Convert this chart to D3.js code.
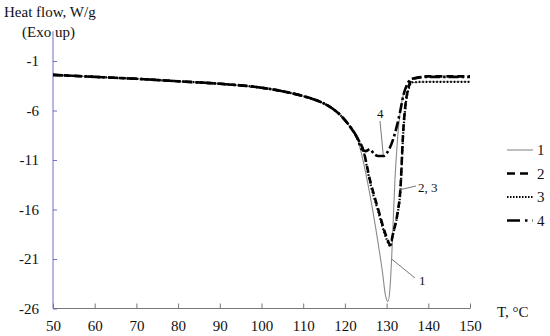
<!DOCTYPE html>
<html>
<head>
<meta charset="utf-8">
<script src="https://cdn.jsdelivr.net/npm/d3@7"></script>
<style>
  body { margin: 0; background: #fff; }
  svg text { font-family: "Liberation Serif", "Times New Roman", Times, "DejaVu Serif", serif; fill: #111; }
</style>
</head>
<body>
<svg id="chart" width="550" height="336"></svg>
<script>
const FONT = '"Liberation Serif", "Times New Roman", Times, "DejaVu Serif", serif';

// baseline part shared by all curves (T, heat flow)
const baseT = [50, 60, 70, 80, 90, 100, 105, 110, 114, 117, 119, 121, 123];
const baseV = [-2.4, -2.6, -2.8, -3.05, -3.3, -3.7, -4.05, -4.55, -5.1, -5.8, -6.5, -7.5, -8.8];

// peak region of each curve
const peak1T = [124, 126, 128, 129, 129.7, 130.3, 130.8, 131.2, 131.6, 132, 132.6, 133.3, 134, 135, 136, 140, 150];
const peak1V = [-10.4, -14.5, -19.5, -22.3, -24.6, -25.3, -24, -21, -17, -13, -9, -6, -4.4, -3.5, -3.2, -3.1, -3.1];

const peak2T = [124.4, 126, 128, 130, 130.9, 131.5, 132.6, 133.3, 134, 134.5, 135.3, 136.2, 140, 150];
const peak2V = [-10, -13, -16, -18.8, -19.6, -18.5, -16.4, -14, -8, -5.5, -3.6, -2.8, -2.55, -2.55];

const peak3T = [124.4, 126, 128, 130, 130.9, 131.5, 132.6, 133.3, 134, 134.5, 135.3, 136.2, 140, 150];
const peak3V = [-10, -13.2, -16.2, -19, -19.7, -18.6, -16.5, -14.2, -8.2, -5.7, -3.8, -3.15, -3.1, -3.1];

const peak4T = [124, 125, 126, 127, 128, 129.2, 130.5, 131.5, 132.5, 133.3, 134, 135, 136, 140, 150];
const peak4V = [-9.9, -10.1, -9.9, -10.4, -10.6, -10.6, -10, -9, -7.5, -6, -4.5, -3.3, -2.8, -2.6, -2.6];

const seriesNames = ['1', '2', '3', '4'];
const xTicks = [50, 60, 70, 80, 90, 100, 110, 120, 130, 140, 150];
const yTicks = [-26, -21, -16, -11, -6, -1];

const svg = d3.select('#chart');

const x = d3.scaleLinear().domain([50, 150]).range([53, 470]);
const y = d3.scaleLinear().domain([-26, 2]).range([308.5, 31.3]);

function build(pT, pV) {
  const pts = baseT.map((t, i) => ({ t: t, v: baseV[i] }));
  pT.forEach((t, i) => pts.push({ t: t, v: pV[i] }));
  return pts;
}

const series = [
  { name: '1', data: build(peak1T, peak1V), color: '#8a8a8a', width: 1.1, dash: null },
  { name: '2', data: build(peak2T, peak2V), color: '#000', width: 2.6, dash: '7,4' },
  { name: '3', data: build(peak3T, peak3V), color: '#000', width: 2.2, dash: '1.5,2' },
  { name: '4', data: build(peak4T, peak4V), color: '#000', width: 2.6, dash: '10,3,2.5,3' }
];

// axes (plain hyphen for negatives, as in the original)
const xAxis = d3.axisBottom(x).tickValues(xTicks).tickSize(-5).tickPadding(12).tickFormat(d => String(d));
const yAxis = d3.axisLeft(y).tickValues(yTicks).tickSize(-4).tickPadding(14).tickFormat(d => String(d));

const xg = svg.append('g').attr('transform', 'translate(0,308.5)').call(xAxis);
xg.attr('font-family', FONT);
xg.select('.domain').attr('stroke', '#777').attr('d', `M${x(50)},0H${x(150)}`);
xg.selectAll('.tick line').attr('stroke', '#777');
xg.selectAll('.tick text').style('font-size', '15px').attr('fill', '#111');

const yg = svg.append('g').attr('transform', `translate(${x(50)},0)`).call(yAxis);
yg.attr('font-family', FONT);
yg.select('.domain').attr('stroke', '#6f6fc4').attr('d', `M0,${y(2)}V${y(-26)}`);
yg.selectAll('.tick line').attr('stroke', '#6f6fc4');
yg.selectAll('.tick text').style('font-size', '15px').attr('fill', '#111');

// axis titles
svg.append('text').attr('x', 4).attr('y', 17).style('font-size', '15px').text('Heat flow, W/g');
svg.append('text').attr('x', 22).attr('y', 37).style('font-size', '15px').text('(Exo up)');
svg.append('text').attr('x', 497).attr('y', 317).style('font-size', '15px').text('T, \u00B0C');

// curves
const line = d3.line().x(d => x(d.t)).y(d => y(d.v)).curve(d3.curveMonotoneX);

svg.append('g').selectAll('path')
  .data(series)
  .join('path')
  .attr('d', d => line(d.data))
  .attr('fill', 'none')
  .attr('stroke', d => d.color)
  .attr('stroke-width', d => d.width)
  .attr('stroke-dasharray', d => d.dash);

// annotations with leader lines
const notes = [
  { label: '4', tx: 377, ty: 118, x1: 380, y1: 121, t: 129.2, v: -10.5 },
  { label: '2, 3', tx: 418, ty: 192, x1: 416, y1: 186, t: 133.2, v: -14 },
  { label: '1', tx: 419, ty: 285, x1: 415, y1: 278, t: 131.2, v: -21 }
];
notes.forEach(n => {
  svg.append('line')
    .attr('x1', n.x1).attr('y1', n.y1)
    .attr('x2', x(n.t)).attr('y2', y(n.v))
    .attr('stroke', '#555').attr('stroke-width', 0.8);
  svg.append('text')
    .attr('x', n.tx).attr('y', n.ty)
    .style('font-size', '13px')
    .text(n.label);
});

// legend
const legend = svg.append('g').attr('transform', 'translate(507,150)');
series.forEach((s, i) => {
  const g = legend.append('g').attr('transform', `translate(0,${i * 23.5})`);
  g.append('line')
    .attr('x1', 0).attr('x2', 26)
    .attr('y1', 0).attr('y2', 0)
    .attr('stroke', s.color)
    .attr('stroke-width', s.name === '1' ? 1.1 : (s.name === '3' ? 1.8 : 2.6))
    .attr('stroke-dasharray', s.name === '2' ? '8,5' : (s.name === '3' ? '1.5,1.5' : (s.name === '4' ? '13,5,2.5,5' : null)));
  g.append('text')
    .attr('x', 30).attr('y', 5)
    .style('font-size', '15px')
    .text(seriesNames[i]);
});
</script>
</body>
</html>
